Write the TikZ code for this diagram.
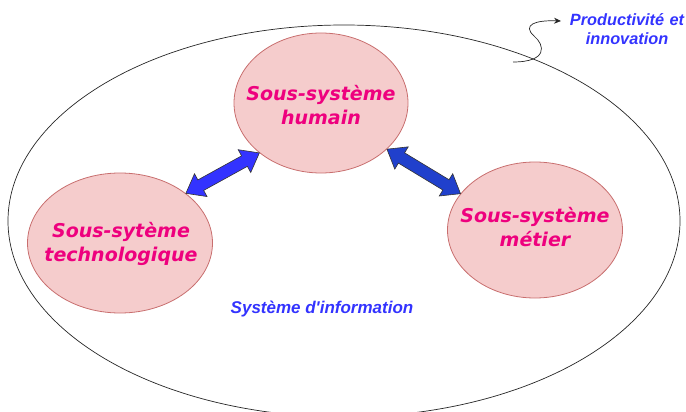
\documentclass[tikz,border=0pt]{standalone}
\usepackage{fontspec}
\setmainfont{Liberation Sans}[Ligatures=TeXOff]
\newfontfamily\vfont{DejaVu Sans}
\usetikzlibrary{shapes.geometric,arrows.meta,calc}
\definecolor{subfill}{RGB}{245,204,204}
\definecolor{subedge}{RGB}{200,110,110}
\definecolor{subtext}{RGB}{238,0,126}
\definecolor{bluetext}{RGB}{51,51,255}
\definecolor{arrowA}{RGB}{51,51,255}
\definecolor{arrowB}{RGB}{32,64,204}
\tikzset{
  x=1pt, y=-1pt,
  subsys/.style={ellipse, draw=subedge, fill=subfill, line width=0.8pt,
    inner sep=0pt},
  subtxt/.style={font=\vfont\bfseries\itshape\fontsize{19}{24}\selectfont,
    text=subtext, align=center},
  bluelbl/.style={font=\bfseries\itshape\fontsize{#1}{#1}\selectfont,
    text=bluetext, align=center},
  blockarrow/.style={draw=black!80, line width=0.6pt, fill=#1, line join=miter},
}
% double-headed block arrow between two points:
% head length 17pt, head half-width 13pt, shaft half-width 6pt
\newcommand\blockarrow[3]{%
  \path[blockarrow=#3]
    (#1)
    -- ($(#1)!17pt!(#2)!13pt!90:(#2)$)
    -- ($(#1)!17pt!(#2)!6pt!90:(#2)$)
    -- ($(#2)!17pt!(#1)!6pt!-90:(#1)$)
    -- ($(#2)!17pt!(#1)!13pt!-90:(#1)$)
    -- (#2)
    -- ($(#2)!17pt!(#1)!13pt!90:(#1)$)
    -- ($(#2)!17pt!(#1)!6pt!90:(#1)$)
    -- ($(#1)!17pt!(#2)!6pt!-90:(#2)$)
    -- ($(#1)!17pt!(#2)!13pt!-90:(#2)$)
    -- cycle;}
\begin{document}
\begin{tikzpicture}
\useasboundingbox (0,0) rectangle (686,412);
% outer system
\node[ellipse, draw=black!85, line width=0.7pt, minimum width=672pt,
  minimum height=392pt, inner sep=0pt] (sys) at (344,221) {};
% sub-systems
\node[subsys, minimum width=174pt, minimum height=140pt] (hum) at (321,103) {};
\node[subsys, minimum width=185pt, minimum height=140pt] (tec) at (120,243) {};
\node[subsys, minimum width=175pt, minimum height=136pt] (met) at (535,230) {};
\node[subtxt] (humt) at (321,105) {Sous-système\\humain};
\node[subtxt] (tect) at (121,244) {Sous-sytème\\technologique};
\node[subtxt] (mett) at (535,227) {Sous-système\\métier};
% double block arrows between the sub-systems
\coordinate (la1) at (tec.37);
\coordinate (la2) at (hum.219);
\coordinate (ra1) at (hum.-35);
\coordinate (ra2) at (met.154);
\blockarrow{la1}{la2}{arrowA}
\blockarrow{ra1}{ra2}{arrowB}
% labels
\node[bluelbl=17] (si) at (322,309) {Système d'information};
\node[bluelbl=16.3, text width=130pt] (pi) at (627,29)
  {Productivité et\\[3pt]innovation};
% squiggle from the system outline
\coordinate (sq) at (513,62);
\coordinate (sqend) at (561,21);
\draw[black!85, line width=0.7pt, -{Stealth[length=7pt,width=6pt]}]
  (sq) .. controls (548,62) and (545,45) .. (534,36)
  .. controls (522,25) and (535,20) .. (sqend);
\end{tikzpicture}
\end{document}
